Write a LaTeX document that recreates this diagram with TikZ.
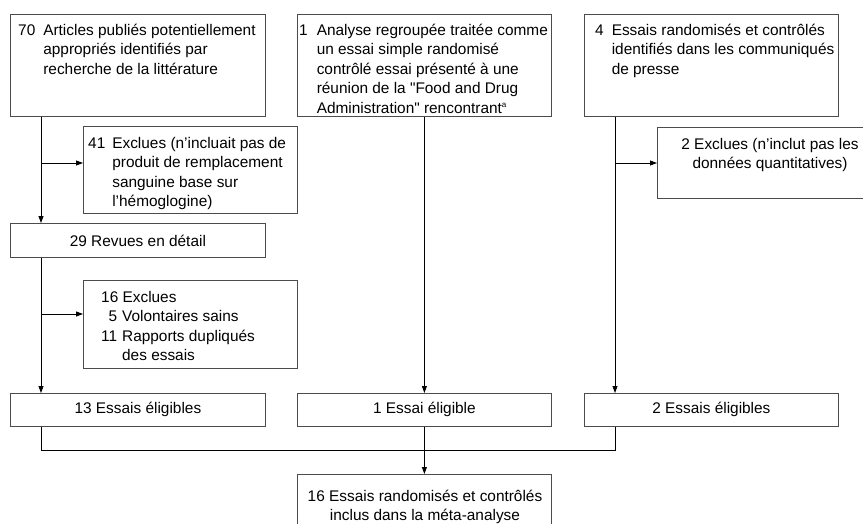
\documentclass[tikz,border=0pt]{standalone}
\usepackage{fontspec}
\setmainfont{Liberation Sans}[Ligatures=TeXOff]
\usetikzlibrary{arrows.meta}
\definecolor{boxgray}{gray}{0.3}
\newcommand\fsz{\fontsize{15.4}{19.5}\selectfont}
\begin{document}
\begin{tikzpicture}[x=1pt,y=-1pt,
  box/.style={draw=boxgray, line width=0.8pt, inner sep=0pt, rectangle, anchor=north west, font=\fsz},
  txt/.style={inner sep=0pt, font=\fsz},
  link/.style={line width=0.8pt, draw=black},
  arr/.style={link, -{Triangle[length=7pt,width=5pt]}}]
\useasboundingbox (0,0) rectangle (863,523);
% boxes
\node[box, minimum width=255pt, minimum height=102pt] (A) at (10,14) {};
\node[box, minimum width=254pt, minimum height=102pt] (B) at (297,14) {};
\node[box, minimum width=254pt, minimum height=102pt] (C) at (584,14) {};
\node[box, minimum width=214pt, minimum height=87pt] (E41) at (83,126) {};
\node[box, minimum width=230pt, minimum height=71pt] (E2) at (657,127) {};
\node[box, minimum width=255pt, minimum height=34pt] (R) at (10,223) {29 Revues en détail};
\node[box, minimum width=214pt, minimum height=88pt] (E16) at (83,280) {};
\node[box, minimum width=255pt, minimum height=33pt] (E13) at (10,393) {13 Essais éligibles};
\node[box, minimum width=254pt, minimum height=33pt] (E1) at (297,393) {1 Essai éligible};
\node[box, minimum width=254pt, minimum height=33pt] (E2b) at (584,393) {2 Essais éligibles};
\node[box, minimum width=254pt, minimum height=60pt] (F) at (297,474) {};
% texts
\node[txt, anchor=base west] (At) at (18,35) {\begin{tabular}[t]{@{}l@{\hspace{8pt}}l@{}}70&Articles publiés potentiellement\\&appropriés identifiés par\\&recherche de la littérature\end{tabular}};
\node[txt, anchor=base west] (Bt) at (299,35) {\begin{tabular}[t]{@{}l@{\hspace{9pt}}l@{}}1&Analyse regroupée traitée comme\\&un essai simple randomisé\\&contrôlé essai présenté à une\\&réunion de la "Food and Drug\\&Administration" rencontrant\textsuperscript{\fontsize{8}{8}\selectfont a}\end{tabular}};
\node[txt, anchor=base west] (Ct) at (595,35) {\begin{tabular}[t]{@{}l@{\hspace{8pt}}l@{}}4&Essais randomisés et contrôlés\\&identifiés dans les communiqués\\&de presse\end{tabular}};
\node[txt, anchor=base west] (E41t) at (88,148) {\begin{tabular}[t]{@{}l@{\hspace{7pt}}l@{}}41&Exclues (n’incluait pas de\\&produit de remplacement\\&sanguine base sur\\&l’hémoglogine)\end{tabular}};
\node[txt, anchor=base] (E2t) at (770,149) {\begin{tabular}[t]{@{}c@{}}2 Exclues (n’inclut pas les\\données quantitatives)\end{tabular}};
\node[txt, anchor=base west] (E16t) at (101,302) {\begin{tabular}[t]{@{}l@{}r@{\hspace{5pt}}l@{}}\multicolumn{3}{@{}l@{}}{16 Exclues}\\\hspace{27pt}&5&Volontaires sains\\&11&Rapports dupliqués\\&&des essais\end{tabular}};
\node[txt, anchor=base] (Ft) at (425,501) {\begin{tabular}[t]{@{}c@{}}16 Essais randomisés et contrôlés\\inclus dans la méta-analyse\end{tabular}};
% connectors
\coordinate (b1) at (41,163);
\coordinate (b2) at (41,314);
\coordinate (b3) at (615,163);
\draw[arr] ([xshift=31pt]A.south west) -- ([xshift=31pt]R.north west);
\draw[arr] (b1) -- (b1 -| E41.west);
\draw[arr] ([xshift=31pt]R.south west) -- ([xshift=31pt]E13.north west);
\draw[arr] (b2) -- (b2 -| E16.west);
\draw[arr] (B.south) -- (E1.north);
\draw[arr] ([xshift=31pt]C.south west) -- ([xshift=31pt]E2b.north west);
\draw[arr] (b3) -- (b3 -| E2.west);
\draw[link] ([xshift=31pt]E13.south west) -- ++(0,24) -| ([xshift=31pt]E2b.south west);
\draw[arr] (E1.south) -- (F.north);
\end{tikzpicture}
\end{document}
